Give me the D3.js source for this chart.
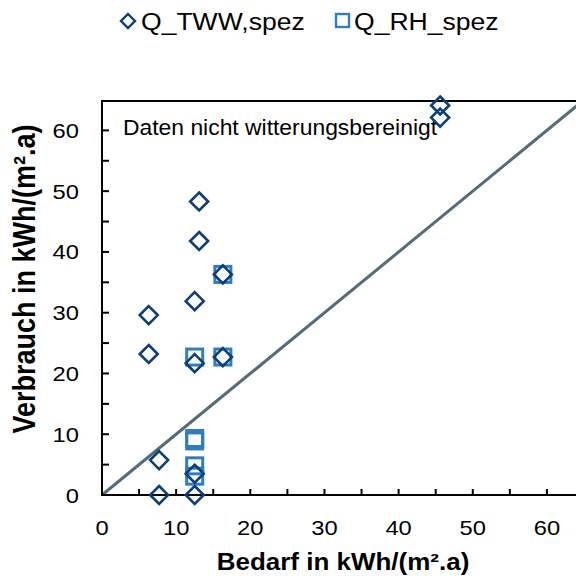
<!DOCTYPE html>
<html><head><meta charset="utf-8">
<script src="https://cdn.jsdelivr.net/npm/d3@7"></script>
<style>body{margin:0;background:#fff}svg{display:block}text{font-family:"Liberation Sans",Arial,sans-serif;fill:#000}</style>
</head><body><svg id="c" width="576" height="576"></svg>
<script>
// Data
const twwX = [45.6, 45.6, 13.1, 13.1, 16.3, 12.5, 6.3, 6.3, 12.5, 16.3, 7.7, 12.5, 7.7, 12.5];
const twwY = [64.1, 62.1, 48.3, 41.8, 36.3, 31.9, 29.6, 23.2, 21.7, 22.7, 5.75, 3.5, 0, 0];
const rhX = [12.5, 16.3, 16.3, 12.5, 12.5, 12.5, 12.5];
const rhY = [22.7, 36.3, 22.7, 9.3, 8.9, 4.8, 3.1];
const xTicks = [0, 10, 20, 30, 40, 50, 60];
const yTicks = [0, 10, 20, 30, 40, 50, 60];
const minorTicks = [0, 5, 10, 15, 20, 25, 30, 35, 40, 45, 50, 55, 60, 65];
const diagonal = [0, 65];
const seriesNames = ["Q_TWW,spez", "Q_RH_spez"];
const xTitle = "Bedarf in kWh/(m².a)";
const yTitle = "Verbrauch in kWh/(m².a)";
const note = "Daten nicht witterungsbereinigt";

const navy = "#0d3d7a", blue = "#2e7fc2", slate = "#546b7a";
const SX = 1.13;
const svg = d3.select("#c");
const x = d3.scaleLinear().domain([0, 65]).range([102, 584]);
const y = d3.scaleLinear().domain([0, 65]).range([495, 100]);

// diagonal
svg.append("line").attr("x1", x(diagonal[0])).attr("y1", y(diagonal[0]))
  .attr("x2", x(diagonal[1])).attr("y2", y(diagonal[1]))
  .attr("stroke", slate).attr("stroke-width", 3);

// axes
svg.append("line").attr("x1", x(0)).attr("x2", 576).attr("y1", y(0)).attr("y2", y(0)).attr("stroke", "#000").attr("stroke-width", 2);
svg.append("line").attr("x1", x(0)).attr("x2", 576).attr("y1", y(65)+1).attr("y2", y(65)+1).attr("stroke", "#000").attr("stroke-width", 2);
svg.append("line").attr("x1", x(0)).attr("x2", x(0)).attr("y1", y(65)).attr("y2", y(0)+1).attr("stroke", "#000").attr("stroke-width", 2);
svg.selectAll(".xt").data(minorTicks.slice(1)).join("line")
  .attr("x1", d => x(d)).attr("x2", d => x(d)).attr("y1", y(0)).attr("y2", y(0) - 6)
  .attr("stroke", "#000").attr("stroke-width", 2);
svg.selectAll(".yt").data(minorTicks.slice(1, 13)).join("line")
  .attr("y1", d => y(d)).attr("y2", d => y(d)).attr("x1", x(0)).attr("x2", x(0) + 7)
  .attr("stroke", "#000").attr("stroke-width", 2);

svg.selectAll(".xl").data(xTicks).join("text")
  .attr("transform", d => `translate(${x(d)},535) scale(${SX},1)`)
  .attr("text-anchor", "middle").style("font-size", "21px").text(d => d);
svg.selectAll(".yl").data(yTicks).join("text")
  .attr("transform", d => `translate(79,${y(d) + 7.5}) scale(${SX},1)`)
  .attr("text-anchor", "end").style("font-size", "21px").text(d => d);

svg.append("text").attr("transform", `translate(343,570) scale(${SX},1)`)
  .attr("text-anchor", "middle").style("font-size", "23px").style("font-weight", "bold").text(xTitle);
svg.append("text").attr("transform", `translate(35,279) scale(${SX},1) rotate(-90)`)
  .attr("text-anchor", "middle").style("font-size", "27px").style("font-weight", "bold").text(yTitle);

svg.append("text").attr("transform", `translate(123,135) scale(1.04,1)`)
  .style("font-size", "22px").text(note);

// markers
const sq = 16;
svg.selectAll(".sq").data(rhX.map((v, i) => [v, rhY[i]])).join("rect")
  .attr("x", d => x(d[0]) - sq / 2).attr("y", d => y(d[1]) - sq / 2)
  .attr("width", sq).attr("height", sq)
  .attr("fill", "none").attr("stroke", blue).attr("stroke-width", 3);
const dm = 9;
const diamond = (cx, cy) => `M${cx},${cy - dm}L${cx + dm},${cy}L${cx},${cy + dm}L${cx - dm},${cy}Z`;
svg.selectAll(".dm").data(twwX.map((v, i) => [v, twwY[i]])).join("path")
  .attr("d", d => diamond(x(d[0]), y(d[1])))
  .attr("fill", "none").attr("stroke", navy).attr("stroke-width", 2.6);

// legend
const leg = svg.append("g");
leg.append("path").attr("d", `M128,${21 - 7}L${128 + 7},21L128,${21 + 7}L${128 - 7},21Z`)
  .attr("fill", "none").attr("stroke", navy).attr("stroke-width", 2.4);
leg.append("text").attr("transform", `translate(141,30) scale(${SX},1)`).style("font-size", "23.5px").text(seriesNames[0]);
leg.append("rect").attr("x", 336).attr("y", 14).attr("width", 13).attr("height", 13)
  .attr("fill", "none").attr("stroke", blue).attr("stroke-width", 2.4);
leg.append("text").attr("transform", `translate(354,30) scale(${SX},1)`).style("font-size", "23.5px").text(seriesNames[1]);
</script></body></html>
